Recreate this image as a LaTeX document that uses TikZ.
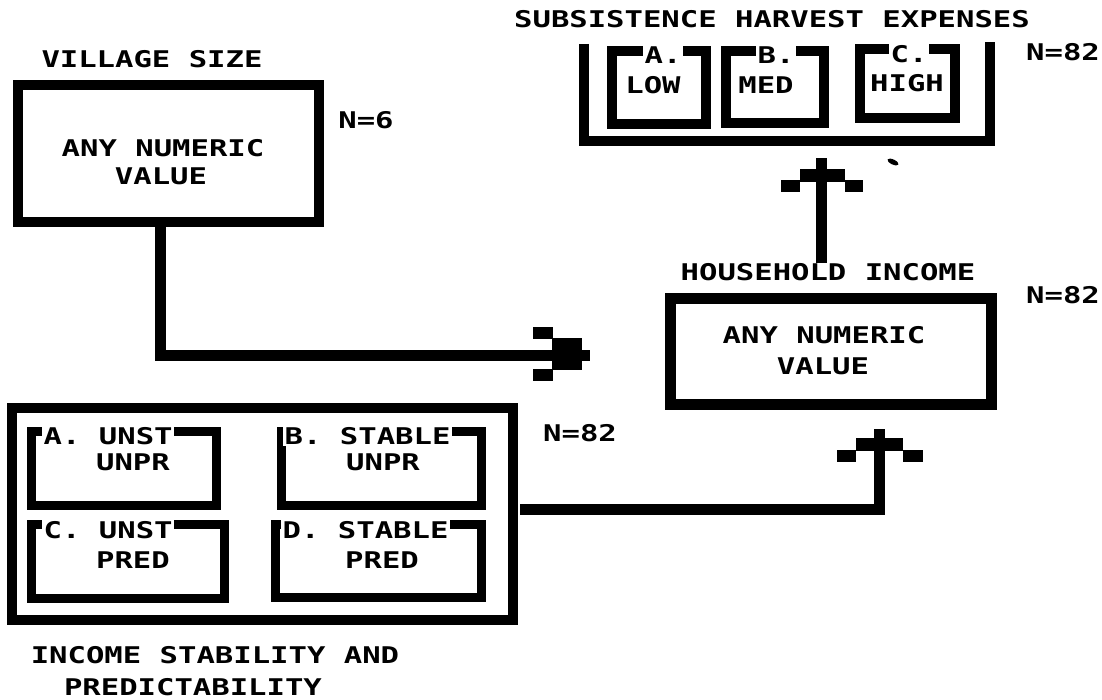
\documentclass[tikz,border=0pt]{standalone}
\usepackage{fontspec}
\newfontfamily\dfont[FakeStretch=1.33]{DejaVu Sans Mono}
\begin{document}
\begin{tikzpicture}[x=1pt,y=-1pt,
  box/.style={draw=black, line width=10pt, inner sep=0pt, outer sep=0pt},
  ibox/.style={draw=black, line width=9pt, inner sep=0pt, outer sep=0pt},
  txt/.style={font=\dfont\bfseries\fontsize{23}{26}\selectfont, inner sep=0pt},
  lab/.style={txt, fill=white, inner sep=1.5pt},
  conn/.style={draw=black, line width=11pt},
  head/.style={fill=black}]
\useasboundingbox (0,0) rectangle (1102,700);

% ---------- Village size ----------
\node[txt] (vst) at (152,59) {VILLAGE SIZE};
\node[box, minimum width=301pt, minimum height=137pt] (vil) at (168.5,153.5) {};
\node[txt] (v1) at (163,148) {ANY NUMERIC};
\node[txt] (v2) at (161,176) {VALUE};
\node[txt] (vn) at (366,120) {N=6};

% ---------- Subsistence harvest expenses ----------
\node[txt] (hst) at (772,19) {SUBSISTENCE HARVEST EXPENSES};
\draw[line width=10pt] (584,44) -- (584,141) -- (990,141) -- (990,42);
\node[box, minimum width=94pt, minimum height=73pt] (ha) at (659,87.5) {};
\node[box, minimum width=98pt, minimum height=72pt] (hb) at (775,87) {};
\node[box, minimum width=95pt, minimum height=69pt] (hc) at (907.5,83.5) {};
\node[lab] (hal) at (663,55) {A.};
\node[lab] (hbl) at (776,55) {B.};
\node[lab] (hcl) at (909,54) {C.};
\node[txt] (hat) at (653,85) {LOW};
\node[txt] (hbt) at (766,85) {MED};
\node[txt] (hct) at (907,83) {HIGH};
\node[txt] (hn) at (1063,52) {N=82};
\fill[rotate around={-25:(893,162)}] (893,162) ellipse (6pt and 2.5pt);

% ---------- Household income ----------
\node[txt] (hht) at (828,272) {HOUSEHOLD INCOME};
\node[box, line width=11pt, minimum width=321pt, minimum height=106pt] (hh) at (831,351.5) {};
\node[txt] (hh1) at (824,335) {ANY NUMERIC};
\node[txt] (hh2) at (823,366) {VALUE};
\node[txt] (hhn) at (1063,295) {N=82};

% ---------- Income stability and predictability ----------
\node[box, minimum width=501pt, minimum height=212pt] (inc) at (262.5,514) {};
\node[ibox, minimum width=185pt, minimum height=74pt] (ia) at (124,468.5) {};
\node[ibox, minimum width=200pt, minimum height=74pt] (ib) at (381.5,468.5) {};
\node[ibox, minimum width=193pt, minimum height=74pt] (ic) at (128,561.5) {};
\node[ibox, minimum width=206pt, minimum height=73pt] (id) at (378.5,561) {};
\node[lab, anchor=west] (ial) at (42,436) {A. UNST};
\node[lab, anchor=west] (ibl) at (283,436) {B. STABLE};
\node[lab, anchor=west] (icl) at (42,530) {C. UNST};
\node[lab, anchor=west] (idl) at (281,530) {D. STABLE};
\node[txt] (iat) at (133,462) {UNPR};
\node[txt] (ibt) at (383,462) {UNPR};
\node[txt] (ict) at (133,560) {PRED};
\node[txt] (idt) at (382,560) {PRED};
\node[txt] (incn) at (580,433) {N=82};
\node[txt] (inc1) at (215,655) {INCOME STABILITY AND};
\node[txt] (inc2) at (193,687) {PREDICTABILITY};

% ---------- Connectors ----------
\coordinate (t1) at (590,355);
\coordinate (t2) at (879,429);
\coordinate (t3) at (821,158);
\draw[conn] ([xshift=-8.5pt]vil.south) |- (t1);
\fill[head] (552,338) rectangle (582,370);
\fill[head] (533,327) rectangle (553,339);
\fill[head] (533,369) rectangle (553,381);

\draw[conn] ([xshift=7pt,yshift=5pt]inc.east) -| (t2);
\fill[head] (856,438) rectangle (903,451);
\fill[head] (837,450) rectangle (856,462);
\fill[head] (903,450) rectangle (923,462);

\draw[conn] (t3 |- hht.north) -- (t3);
\fill[head] (800,169) rectangle (845,182);
\fill[head] (781,180) rectangle (800,192);
\fill[head] (845,180) rectangle (863,192);
\end{tikzpicture}
\end{document}
